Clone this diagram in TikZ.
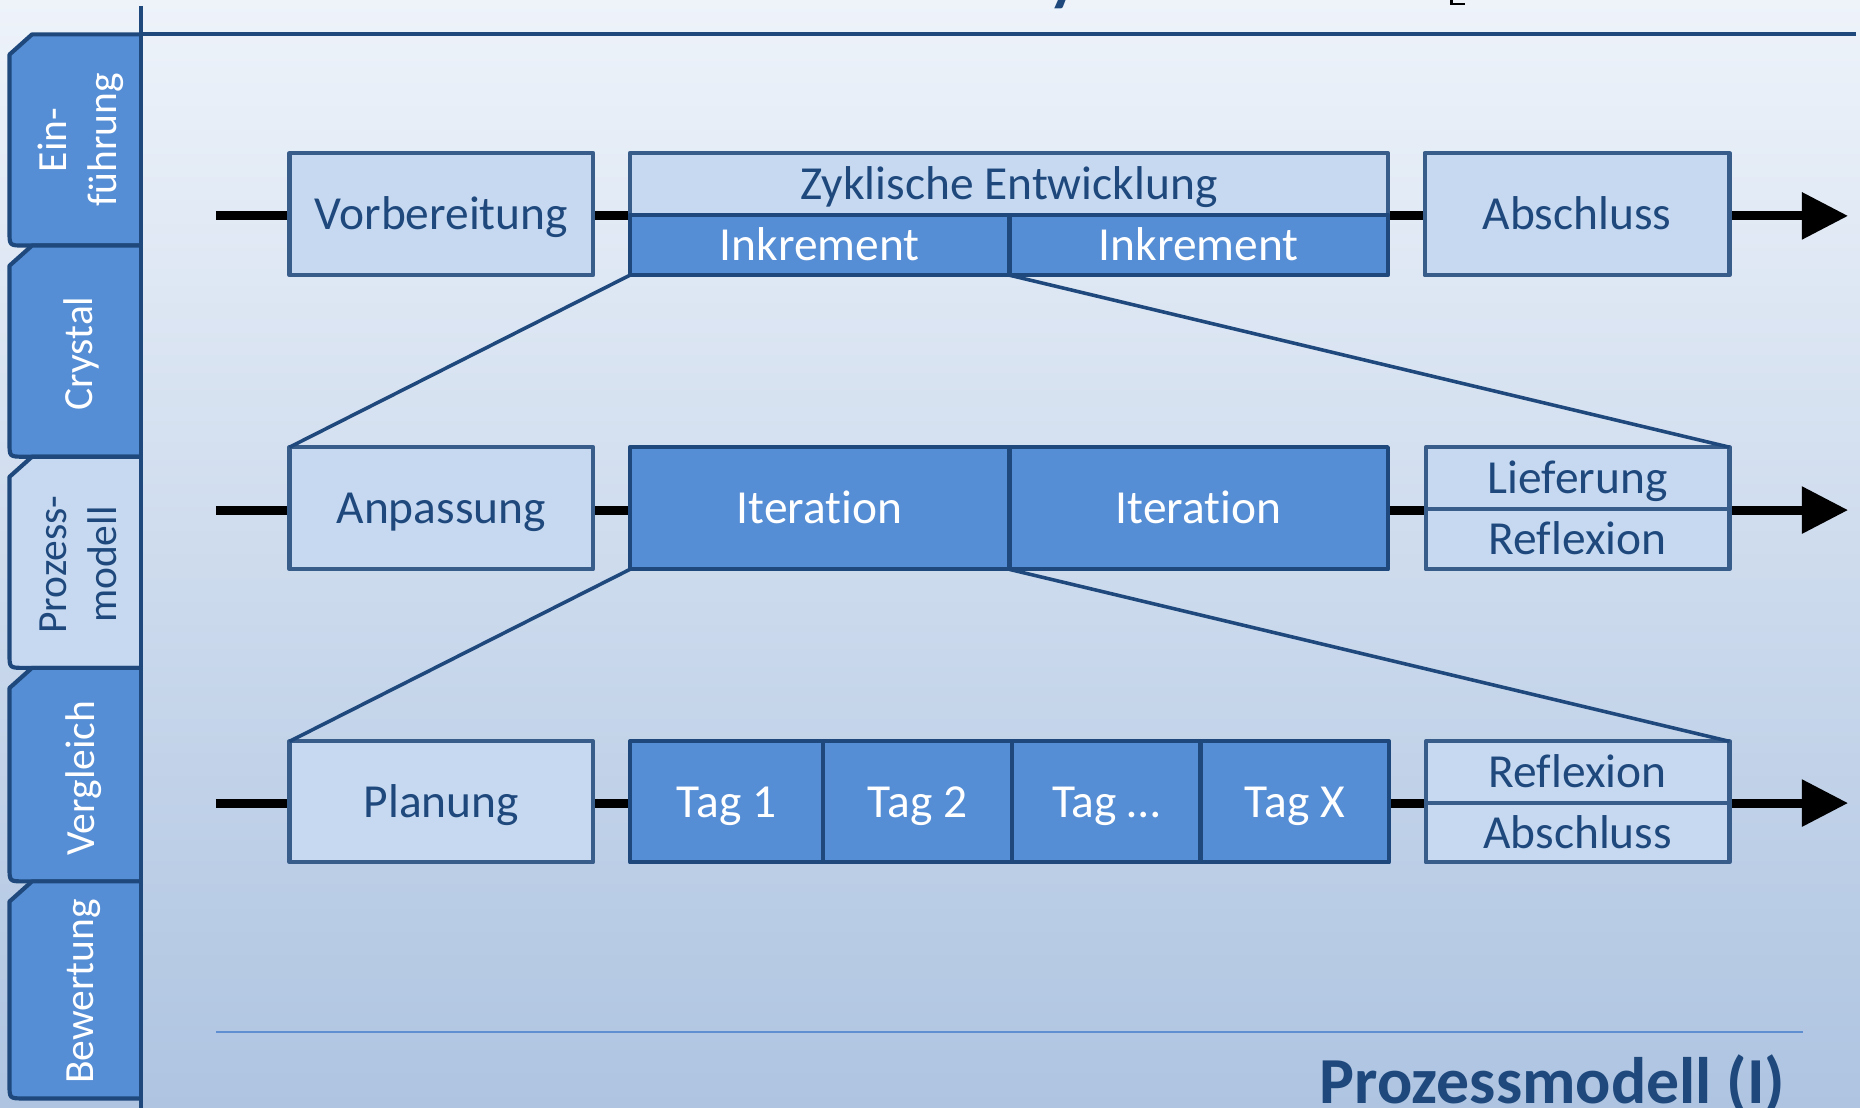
\documentclass[tikz,border=0pt]{standalone}
\usepackage{fontspec}
\setmainfont[Ligatures=NoCommon]{Carlito}
\usetikzlibrary{arrows.meta}
\definecolor{dkblue}{HTML}{1F497D}
\definecolor{mdblue}{HTML}{385D8A}
\definecolor{fillblue}{HTML}{558ED5}
\definecolor{lightfill}{HTML}{C6D9F1}
\definecolor{bgtop}{HTML}{EEF3FA}
\definecolor{bgbot}{HTML}{AEC4E1}
\definecolor{rulecol}{HTML}{5F8FD0}
\begin{document}
\begin{tikzpicture}[x=1pt,y=-1pt,
  boxbase/.style={line width=3.5pt, inner sep=0pt, outer sep=0pt, line join=round,
    text height=25.8pt, text depth=0pt, font=\fontsize{40}{48}\selectfont},
  lbox/.style={boxbase, draw=mdblue, fill=lightfill, text=dkblue},
  dbox/.style={boxbase, draw=dkblue, fill=fillblue, text=white},
  timeline/.style={line width=7.5pt, black, -{Triangle[length=39pt,width=38pt]}},
  zoomline/.style={draw=dkblue, line width=3pt},
  tabshape/.style={draw=dkblue, line width=3.5pt, line join=round},
  tabtext/.style={text=white, font=\fontsize{35}{42}\selectfont, align=center, inner sep=0pt, rotate=90},
  frameline/.style={draw=dkblue, line width=3.5pt}
]
\useasboundingbox (0,0) rectangle (1568,934);
\clip (0,0) rectangle (1568,934);
\shade[top color=bgtop, bottom color=bgbot] (0,0) rectangle (1568,934);

% timelines
\coordinate (l1s) at (182,182); \coordinate (l1e) at (1558,182);
\coordinate (l2s) at (182,430); \coordinate (l2e) at (1558,430);
\coordinate (l3s) at (182,677); \coordinate (l3e) at (1558,677);
\draw[timeline] (l1s) -- (l1e);
\draw[timeline] (l2s) -- (l2e);
\draw[timeline] (l3s) -- (l3e);

% row 1
\node[lbox, minimum width=256pt, minimum height=103pt] (vor) at (372,180.5) {Vorbereitung};
\node[lbox, minimum width=639pt, minimum height=52pt] (zyk) at (850.5,155) {Zyklische Entwicklung};
\node[dbox, minimum width=320pt, minimum height=51pt] (ink1) at (691,206.5) {Inkrement};
\node[dbox, minimum width=319pt, minimum height=51pt] (ink2) at (1010.5,206.5) {Inkrement};
\node[lbox, minimum width=257pt, minimum height=103pt] (abs1) at (1329.5,180.5) {Abschluss};

% row 2
\node[lbox, minimum width=256pt, minimum height=103pt] (anp) at (372,428.5) {Anpassung};
\node[dbox, minimum width=320pt, minimum height=103pt] (it1) at (691,428.5) {Iteration};
\node[dbox, minimum width=319pt, minimum height=103pt] (it2) at (1010.5,428.5) {Iteration};
\node[lbox, minimum width=256pt, minimum height=52pt] (lief) at (1330,403) {Lieferung};
\node[lbox, minimum width=256pt, minimum height=51pt] (refl1) at (1330,454.5) {Reflexion};

% row 3
\node[lbox, minimum width=256pt, minimum height=102pt] (plan) at (372,676) {Planung};
\node[dbox, minimum width=163pt, minimum height=102pt] (tag1) at (612.5,676) {Tag 1};
\node[dbox, minimum width=159pt, minimum height=102pt] (tag2) at (773.5,676) {Tag 2};
\node[dbox, minimum width=159pt, minimum height=102pt] (tag3) at (932.5,676) {Tag …};
\node[dbox, minimum width=159pt, minimum height=102pt] (tagx) at (1091.5,676) {Tag X};
\node[lbox, minimum width=256pt, minimum height=52pt] (refl2) at (1330,651) {Reflexion};
\node[lbox, minimum width=256pt, minimum height=50pt] (abs2) at (1330,702) {Abschluss};

% zoom lines
\draw[zoomline] (ink1.south west) -- (anp.north west);
\draw[zoomline] (ink1.south east) -- (lief.north east);
\draw[zoomline] (it1.south west) -- (plan.north west);
\draw[zoomline] (it1.south east) -- (refl2.north east);

% tabs
\foreach \t/\b/\f in {29/207/fillblue,207/385/fillblue,385/563/lightfill,563/743/fillblue,743/926/fillblue}{
  \draw[tabshape, fill=\f] (119,\t) -- (27,\t) -- (8,\t+17) -- (8,\b-12) .. controls (8,\b) .. (20,\b) -- (119,\b);
}
\node[tabtext, anchor=center] (tab1) at (68,118) {Ein-\\führung};
\node[tabtext, anchor=base] (tab2) at (78,298) {Crystal};
\node[tabtext, anchor=center, text=dkblue] (tab3) at (66,476) {Prozess-\\modell};
\node[tabtext, anchor=base] (tab4) at (80,656) {Vergleich};
\node[tabtext, anchor=base] (tab5) at (79,836) {Bewertung};

% frame lines
\coordinate (vt) at (119,5); \coordinate (vb) at (119,940);
\coordinate (ht) at (119,29); \coordinate (he) at (1565,29);
\draw[frameline] (vt) -- (vb);
\draw[frameline] (ht) -- (he);

% bottom rule and title
\coordinate (bl) at (182,870); \coordinate (br) at (1520,870);
\draw[rulecol, line width=1.5pt] (bl) -- (br);
\node[font=\bfseries\fontsize{55.4}{60}\selectfont, text=dkblue, anchor=base east, inner sep=0pt] (title) at (1505,930) {Prozessmodell (I)};

% cut-off fragments of the top title
\node[font=\bfseries\fontsize{55.4}{60}\selectfont, text=dkblue, anchor=base west, inner sep=0pt] (topfrag) at (884,-1) {y};
\fill[black] (1222,0) rectangle (1225,4);
\fill[black] (1222,2.5) rectangle (1235,4.5);
\end{tikzpicture}
\end{document}
